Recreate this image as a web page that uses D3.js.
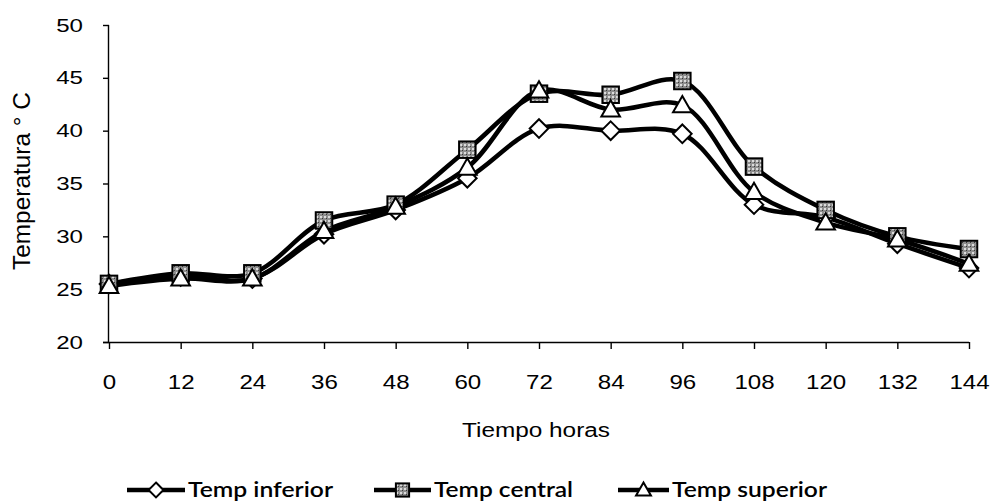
<!DOCTYPE html>
<html>
<head>
<meta charset="utf-8">
<script src="https://cdn.jsdelivr.net/npm/d3@7"></script>
<style>
  html, body { margin: 0; padding: 0; background: #fff; }
  svg { display: block; }
</style>
</head>
<body>
<svg id="chart" width="995" height="502"></svg>
<script>
const hours = [0, 12, 24, 36, 48, 60, 72, 84, 96, 108, 120, 132, 144];
const tempInferior = [25.5, 26.2, 26.0, 30.2, 32.5, 35.5, 40.2, 40.0, 39.7, 33.0, 31.8, 29.3, 27.0];
const tempCentral  = [25.5, 26.5, 26.5, 31.5, 33.0, 38.2, 43.5, 43.4, 44.7, 36.6, 32.5, 30.0, 28.8];
const tempSuperior = [25.3, 26.0, 26.0, 30.5, 32.8, 36.5, 43.8, 42.0, 42.4, 34.2, 31.3, 29.7, 27.4];
const seriesNames = ["Temp inferior", "Temp central", "Temp superior"];
const yTicks = [20, 25, 30, 35, 40, 45, 50];

const svg = d3.select("#chart");
const x = d3.scaleLinear().domain([0, 144]).range([109, 969]);
const y = d3.scaleLinear().domain([20, 50]).range([342, 25]);

const font = "'Liberation Sans', Arial, sans-serif";
const digitW = 13.4;

// Y axis
const yAxis = svg.append("g").attr("transform", `translate(${x(0)},0)`)
  .call(d3.axisLeft(y).tickValues(yTicks).tickSize(6).tickPadding(20));
yAxis.select(".domain").attr("d", `M-0.5,${y(50)}V${y(20)}`).attr("stroke", "#000").attr("stroke-width", 1.4);
yAxis.selectAll(".tick line").attr("stroke", "#000").attr("stroke-width", 1.4);
yAxis.selectAll(".tick text").attr("font-family", font).attr("font-size", 19).attr("fill", "#000")
  .attr("textLength", function () { return this.textContent.length * digitW; })
  .attr("lengthAdjust", "spacingAndGlyphs");

// X axis
const xAxis = svg.append("g").attr("transform", `translate(0,${y(20)})`)
  .call(d3.axisBottom(x).tickValues(hours).tickSize(7).tickPadding(26).tickFormat(d3.format("d")));
xAxis.select(".domain").attr("d", `M${x(0) - 6},0.5H${x(144)}`).attr("stroke", "#000").attr("stroke-width", 1.4);
xAxis.selectAll(".tick line").attr("stroke", "#000").attr("stroke-width", 1.4);
xAxis.selectAll(".tick text").attr("font-family", font).attr("font-size", 20).attr("fill", "#000")
  .attr("textLength", function () { return this.textContent.length * digitW; })
  .attr("lengthAdjust", "spacingAndGlyphs");

// Axis titles
svg.append("text").attr("transform", `translate(30,181) rotate(-90) scale(1,1.25)`)
  .attr("text-anchor", "middle").attr("font-family", font).attr("font-size", 19)
  .attr("textLength", 178).attr("lengthAdjust", "spacingAndGlyphs")
  .text("Temperatura ° C");
svg.append("text").attr("x", 536).attr("y", 437)
  .attr("text-anchor", "middle").attr("font-family", font).attr("font-size", 20)
  .attr("textLength", 148).attr("lengthAdjust", "spacingAndGlyphs")
  .text("Tiempo horas");

// Texture for square marker
const defs = svg.append("defs");
const pat = defs.append("pattern").attr("id", "grain").attr("width", 4).attr("height", 4)
  .attr("patternUnits", "userSpaceOnUse");
pat.append("rect").attr("width", 4).attr("height", 4).attr("fill", "#8e8e8e");
pat.append("rect").attr("width", 2).attr("height", 2).attr("fill", "#dcdcdc");
pat.append("rect").attr("x", 2).attr("y", 2).attr("width", 1).attr("height", 1).attr("fill", "#3a3a3a");

const line = d3.line().x((d, i) => x(hours[i])).y(d => y(d)).curve(d3.curveCatmullRom.alpha(0.5));

const data = [
  { name: seriesNames[0], values: tempInferior, marker: "diamond" },
  { name: seriesNames[1], values: tempCentral, marker: "square" },
  { name: seriesNames[2], values: tempSuperior, marker: "triangle" }
];

function drawMarker(g, type, cx, cy, s) {
  if (type === "diamond") {
    const r = s * 0.62;
    g.append("path").attr("d", `M${cx},${cy - r}L${cx + r},${cy}L${cx},${cy + r}L${cx - r},${cy}Z`)
      .attr("fill", "#fff").attr("stroke", "#000").attr("stroke-width", 2);
  } else if (type === "square") {
    const h = s * 0.55;
    g.append("rect").attr("x", cx - h).attr("y", cy - h).attr("width", 2 * h).attr("height", 2 * h)
      .attr("fill", "url(#grain)").attr("stroke", "#000").attr("stroke-width", 2);
  } else {
    const h = s * 0.62;
    g.append("path").attr("d", `M${cx},${cy - h}L${cx + h},${cy + h * 0.75}L${cx - h},${cy + h * 0.75}Z`)
      .attr("fill", "#fff").attr("stroke", "#000").attr("stroke-width", 2);
  }
}

data.forEach(s => {
  svg.append("path").datum(s.values).attr("d", line)
    .attr("fill", "none").attr("stroke", "#000").attr("stroke-width", 4.5).attr("stroke-linejoin", "round");
});
data.forEach(s => {
  const g = svg.append("g");
  s.values.forEach((v, i) => drawMarker(g, s.marker, x(hours[i]), y(v), 15));
});

// Legend
const legendFont = "Lato, 'Open Sans', sans-serif";
const legendItems = [
  { lx: 127, tx: 188, tl: 145 },
  { lx: 374, tx: 434, tl: 139 },
  { lx: 618, tx: 672, tl: 155 }
];
data.forEach((s, i) => {
  const li = legendItems[i];
  const ly = 490;
  const g = svg.append("g");
  g.append("line").attr("x1", li.lx).attr("x2", li.tx - 3).attr("y1", ly).attr("y2", ly)
    .attr("stroke", "#000").attr("stroke-width", 4.5);
  drawMarker(g, s.marker, (li.lx + li.tx - 3) / 2, ly, 12);
  g.append("text").attr("x", li.tx).attr("y", ly + 7).attr("font-family", legendFont)
    .attr("font-weight", 600).attr("font-size", 21).attr("fill", "#000")
    .attr("textLength", li.tl).attr("lengthAdjust", "spacingAndGlyphs").text(s.name);
});
</script>
</body>
</html>
